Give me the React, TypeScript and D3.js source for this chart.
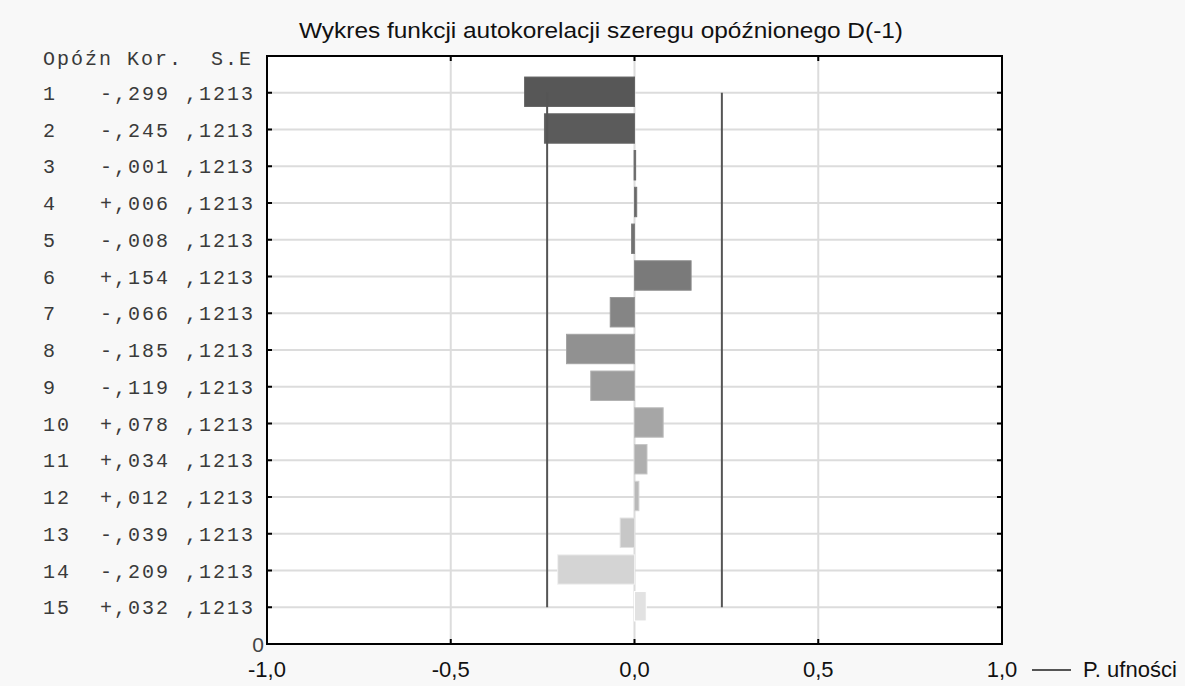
import React from "react";
import * as d3 from "d3";

// Autocorrelation table for the lagged series
const lags = [1, 2, 3, 4, 5, 6, 7, 8, 9, 10, 11, 12, 13, 14, 15];
const correlations = [-0.299, -0.245, -0.001, 0.006, -0.008, 0.154, -0.066, -0.185, -0.119, 0.078, 0.034, 0.012, -0.039, -0.209, 0.032];
const stdErrors = [0.1213, 0.1213, 0.1213, 0.1213, 0.1213, 0.1213, 0.1213, 0.1213, 0.1213, 0.1213, 0.1213, 0.1213, 0.1213, 0.1213, 0.1213];
const xTicks = [-1.0, -0.5, 0.0, 0.5, 1.0];

const title = "Wykres funkcji autokorelacji szeregu opóźnionego D(-1)";
const headLag = "Opóźn";
const headCorr = "Kor.";
const headSE = "S.E";
const legendLabel = "P. ufności";

const W = 1185;
const H = 686;
const plot = { left: 267, right: 1002, top: 56, bottom: 644 };

// Polish-style number formats: ",299" and ",1213"
const fmtCorr = (v: number) => {
  const sign = v < 0 ? "-" : "+";
  return sign + Math.abs(v).toFixed(3).replace(/^0\./, ",");
};
const fmtSE = (v: number) => v.toFixed(4).replace(/^0\./, ",");
const fmtTick = (v: number) => v.toFixed(1).replace(".", ",");

// monospace table columns
const CH = 14; // character advance
const colLag = 42;
const colCorr = 99;
const colSE = 184;

export default function App() {
  const x = d3.scaleLinear().domain([-1, 1]).range([plot.left, plot.right]);
  // position 0 is the bottom axis, lag 15 sits just above it, lag 1 near the top
  const n = lags.length;
  const y = d3.scaleLinear().domain([0, n + 1]).range([plot.bottom, plot.top]);
  const rowY = (lag: number) => y(n + 1 - lag);
  const step = Math.abs(y(1) - y(0));
  const barH = step * 0.8;

  const shade = d3
    .scaleLinear<string>()
    .domain([1, 3, 6, 9, 12, 15])
    .range(["#575757", "#5f5f5f", "#7a7a7a", "#9c9c9c", "#b9b9b9", "#e2e2e2"]);

  const conf = 1.96 * stdErrors[0];

  const mono = "'Liberation Mono', 'Courier New', monospace";
  const sans = "'Liberation Sans', Arial, sans-serif";

  // draws a string with one glyph per fixed-width cell
  const monoText = (s: string, x0: number, yy: number, key: string) => (
    <text key={key} y={yy} dominantBaseline="central" fontFamily={mono} fontSize={20} fill="#3a3a3a">
      {Array.from(s).map((ch, k) => (
        <tspan key={k} x={x0 + k * CH + CH / 2} textAnchor="middle">
          {ch}
        </tspan>
      ))}
    </text>
  );

  return (
    <svg width={W} height={H} style={{ display: "block", position: "absolute", left: 0, top: 0 }}>
      <rect x={0} y={0} width={W} height={H} fill="#f8f8f8" />
      <rect x={plot.left} y={plot.top} width={plot.right - plot.left} height={plot.bottom - plot.top} fill="#ffffff" />

      {/* title */}
      <text x={601} y={38} textAnchor="middle" fontFamily={sans} fontSize={22.5} fill="#111" textLength={604} lengthAdjust="spacingAndGlyphs">
        {title}
      </text>

      {/* vertical grid */}
      {xTicks.slice(1, -1).map((t) => (
        <line key={"gx" + t} x1={x(t)} x2={x(t)} y1={plot.top} y2={plot.bottom} stroke="#dcdcdc" strokeWidth={2} />
      ))}
      {/* horizontal grid */}
      {lags.map((l) => (
        <line key={"gy" + l} x1={plot.left} x2={plot.right} y1={rowY(l)} y2={rowY(l)} stroke="#dcdcdc" strokeWidth={2} />
      ))}

      {/* bars */}
      {lags.map((l, i) => {
        const v = correlations[i];
        const x0 = x(Math.min(0, v));
        const x1 = x(Math.max(0, v));
        const c = shade(l);
        return (
          <rect
            key={"b" + l}
            x={x0}
            y={rowY(l) - barH / 2 - 1}
            width={Math.max(1.5, x1 - x0)}
            height={barH}
            fill={c}
            stroke={d3.color(c)!.brighter(0.35).formatHex()}
            strokeWidth={1}
          />
        );
      })}

      {/* confidence limits */}
      {[-conf, conf].map((c) => (
        <line key={"c" + c} x1={x(c)} x2={x(c)} y1={rowY(1)} y2={rowY(n)} stroke="#555" strokeWidth={2} />
      ))}

      {/* frame */}
      <rect x={plot.left} y={plot.top} width={plot.right - plot.left} height={plot.bottom - plot.top} fill="none" stroke="#000" strokeWidth={2} />

      {/* inward ticks */}
      {xTicks.slice(1, -1).map((t) => (
        <g key={"tx" + t}>
          <line x1={x(t)} x2={x(t)} y1={plot.top} y2={plot.top + 5} stroke="#000" strokeWidth={2} />
          <line x1={x(t)} x2={x(t)} y1={plot.bottom} y2={plot.bottom - 5} stroke="#000" strokeWidth={2} />
        </g>
      ))}
      {lags.map((l) => (
        <g key={"ty" + l}>
          <line x1={plot.left} x2={plot.left + 5} y1={rowY(l)} y2={rowY(l)} stroke="#000" strokeWidth={2} />
          <line x1={plot.right} x2={plot.right - 5} y1={rowY(l)} y2={rowY(l)} stroke="#000" strokeWidth={2} />
        </g>
      ))}

      {/* x tick labels */}
      {xTicks.map((t) => (
        <text key={"lx" + t} x={x(t)} y={677} textAnchor="middle" fontFamily={sans} fontSize={22} fill="#111">
          {fmtTick(t)}
        </text>
      ))}

      {/* table of lags, correlations and standard errors */}
      {monoText(headLag, colLag, y(n + 1) + 3, "h1")}
      {monoText(headCorr, colLag + 6 * CH, y(n + 1) + 3, "h2")}
      {monoText(headSE, colLag + 12 * CH, y(n + 1) + 3, "h3")}
      {lags.map((l, i) => (
        <g key={"row" + l}>
          {monoText(String(l), colLag, rowY(l) + 1, "l" + l)}
          {monoText(fmtCorr(correlations[i]), colCorr, rowY(l) + 1, "r" + l)}
          {monoText(fmtSE(stdErrors[i]), colSE, rowY(l) + 1, "s" + l)}
        </g>
      ))}
      <text x={258} y={y(0)} dominantBaseline="central" textAnchor="middle" fontFamily={sans} fontSize={21} fill="#444">
        0
      </text>

      {/* legend */}
      <line x1={1032} x2={1071} y1={670} y2={670} stroke="#555" strokeWidth={2} />
      <text x={1083} y={677} fontFamily={sans} fontSize={22} fill="#111">
        {legendLabel}
      </text>
    </svg>
  );
}
